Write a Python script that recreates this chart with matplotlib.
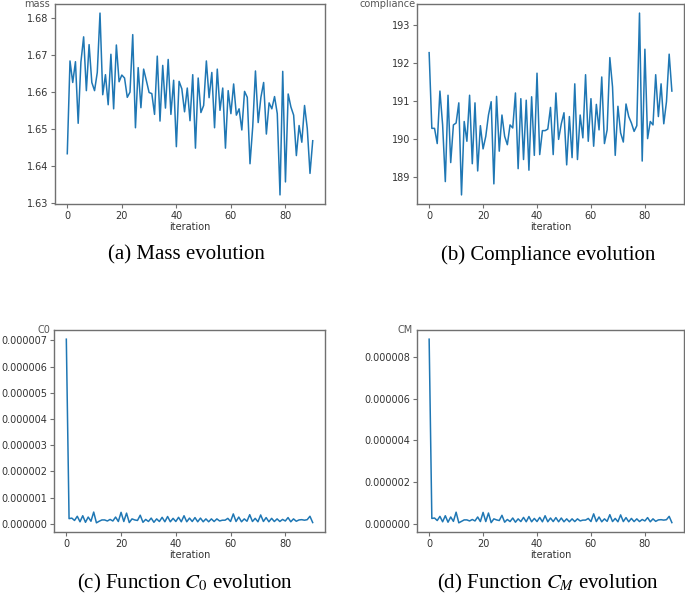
import matplotlib
matplotlib.use('Agg')
import matplotlib.pyplot as plt
import matplotlib.ticker as ticker
import numpy as np

# values, iterations 0..90
iterations = np.arange(91)

mass = [
    1.6433, 1.6683, 1.6625, 1.6681, 1.6515, 1.6680, 1.6748, 1.6603, 1.6727, 1.6625,
    1.6603, 1.6652, 1.6812, 1.6592, 1.6646, 1.6565, 1.6701, 1.6554, 1.6726, 1.6627,
    1.6645, 1.6637, 1.6585, 1.6599, 1.6754, 1.6503, 1.6665, 1.6557, 1.6661, 1.6630,
    1.6598, 1.6595, 1.6539, 1.6696, 1.6521, 1.6671, 1.6556, 1.6687, 1.6539, 1.6631,
    1.6452, 1.6628, 1.6608, 1.6546, 1.6610, 1.6522, 1.6646, 1.6448, 1.6637, 1.6544,
    1.6563, 1.6683, 1.6584, 1.6652, 1.6503, 1.6661, 1.6550, 1.6610, 1.6448, 1.6603,
    1.6541, 1.6621, 1.6537, 1.6554, 1.6497, 1.6601, 1.6585, 1.6406, 1.6506, 1.6656,
    1.6517, 1.6585, 1.6625, 1.6486, 1.6570, 1.6554, 1.6587, 1.6541, 1.6322, 1.6655,
    1.6357, 1.6594, 1.6559, 1.6537, 1.6428, 1.6509, 1.6464, 1.6563, 1.6501, 1.6380,
    1.6468,
]

compliance = [
    192.28, 190.29, 190.29, 189.89, 191.27, 190.38, 188.89, 191.16, 189.39, 190.38,
    190.43, 190.96, 188.54, 190.47, 189.95, 191.16, 189.36, 190.96, 189.17, 190.36,
    189.75, 190.08, 190.64, 190.99, 188.83, 191.13, 189.69, 190.64, 190.08, 189.86,
    190.38, 190.30, 191.22, 189.23, 191.07, 189.47, 191.03, 189.19, 191.12, 189.58,
    191.74, 189.60, 190.23, 190.23, 190.27, 190.84, 189.60, 191.22, 190.00, 190.41,
    190.70, 189.33, 190.60, 189.52, 191.46, 189.47, 190.64, 190.04, 191.70, 189.95,
    191.07, 189.82, 190.92, 190.25, 191.64, 189.89, 190.25, 192.15, 191.38, 189.58,
    190.87, 190.17, 189.93, 190.93, 190.60, 190.43, 190.21, 190.36, 193.32, 189.43,
    192.37, 190.02, 190.47, 190.38, 191.70, 190.60, 191.46, 190.41, 190.99, 192.24,
    191.27,
]

# in units of 1e-6
c0_micro = [
    7.05, 0.20, 0.22, 0.13, 0.29, 0.08, 0.31, 0.06, 0.26, 0.10,
    0.45, 0.04, 0.10, 0.15, 0.15, 0.11, 0.17, 0.11, 0.26, 0.09,
    0.44, 0.09, 0.41, 0.05, 0.19, 0.15, 0.13, 0.33, 0.06, 0.17,
    0.09, 0.22, 0.06, 0.19, 0.09, 0.25, 0.08, 0.28, 0.08, 0.21,
    0.09, 0.25, 0.08, 0.31, 0.08, 0.22, 0.09, 0.24, 0.08, 0.22,
    0.08, 0.19, 0.08, 0.19, 0.09, 0.19, 0.11, 0.14, 0.14, 0.21,
    0.09, 0.38, 0.09, 0.26, 0.08, 0.19, 0.10, 0.35, 0.09, 0.21,
    0.08, 0.34, 0.09, 0.24, 0.08, 0.21, 0.09, 0.19, 0.09, 0.17,
    0.11, 0.24, 0.08, 0.19, 0.10, 0.15, 0.16, 0.14, 0.16, 0.29,
    0.05,
]

cm_micro = [
    8.86, 0.26, 0.28, 0.16, 0.36, 0.10, 0.39, 0.08, 0.33, 0.12,
    0.56, 0.05, 0.12, 0.19, 0.19, 0.14, 0.21, 0.14, 0.33, 0.11,
    0.55, 0.11, 0.52, 0.06, 0.24, 0.19, 0.16, 0.41, 0.08, 0.21,
    0.11, 0.28, 0.08, 0.24, 0.11, 0.31, 0.10, 0.35, 0.10, 0.26,
    0.11, 0.31, 0.10, 0.39, 0.10, 0.28, 0.11, 0.30, 0.10, 0.28,
    0.10, 0.24, 0.10, 0.24, 0.11, 0.24, 0.14, 0.18, 0.18, 0.26,
    0.11, 0.48, 0.11, 0.33, 0.10, 0.24, 0.12, 0.44, 0.11, 0.26,
    0.10, 0.43, 0.11, 0.30, 0.10, 0.26, 0.11, 0.24, 0.11, 0.21,
    0.14, 0.30, 0.10, 0.24, 0.12, 0.19, 0.20, 0.18, 0.20, 0.36,
    0.06,
]

LINE_COLOR = '#1f77b4'
SPINE_COLOR = '#707070'
TEXT_COLOR = '#333333'

plt.rcParams['mathtext.fontset'] = 'stix'

W, H = 685, 601
fig = plt.figure(figsize=(W / 100, H / 100), dpi=100)


def px_axes(left, top, right, bottom):
    return fig.add_axes([left / W, 1 - bottom / H, (right - left) / W, (bottom - top) / H])


panels = [
    dict(box=(55, 4, 325, 204), y=mass, label='mass', lx=-0.018, fmt=None, step=None),
    dict(box=(417, 4, 684, 204), y=compliance, label='compliance', lx=-0.004, fmt=None, step=None),
    dict(box=(54, 330, 325, 532), y=np.array(c0_micro) * 1e-6, label='C0', lx=-0.015,
         fmt='%.6f', step=1e-6),
    dict(box=(417, 330, 684, 532), y=np.array(cm_micro) * 1e-6, label='CM', lx=-0.016,
         fmt='%.6f', step=2e-6),
]

for p in panels:
    ax = px_axes(*p['box'])
    ax.plot(iterations, p['y'], color=LINE_COLOR, lw=1.1)
    ax.set_xticks([0, 20, 40, 60, 80])
    if p['step']:
        ax.yaxis.set_major_locator(ticker.MultipleLocator(p['step']))
        ax.yaxis.set_major_formatter(ticker.FormatStrFormatter(p['fmt']))
    ax.set_xlabel('iteration', fontsize=7, color=TEXT_COLOR, labelpad=1)
    ax.set_ylabel(p['label'], fontsize=7, color='#555555', rotation=0,
                  ha='right', va='center')
    ax.yaxis.set_label_coords(p['lx'], 1.0)
    ax.tick_params(labelsize=7, colors=SPINE_COLOR, labelcolor=TEXT_COLOR,
                   length=3, width=0.8, pad=2)
    for s in ax.spines.values():
        s.set_color(SPINE_COLOR)
        s.set_linewidth(1.0)

captions = [
    (186, 255, '(a) Mass evolution'),
    (548, 255, '(b) Compliance evolution'),
    (185, 583, '(c) Function $C_0$ evolution'),
    (548, 583, '(d) Function $C_M$ evolution'),
]
for cx, cy, txt in captions:
    fig.text(cx / W, 1 - cy / H, txt, ha='center', va='center',
             fontsize=15, family='Liberation Serif', color='black')

fig.savefig('out.png', dpi=100)
